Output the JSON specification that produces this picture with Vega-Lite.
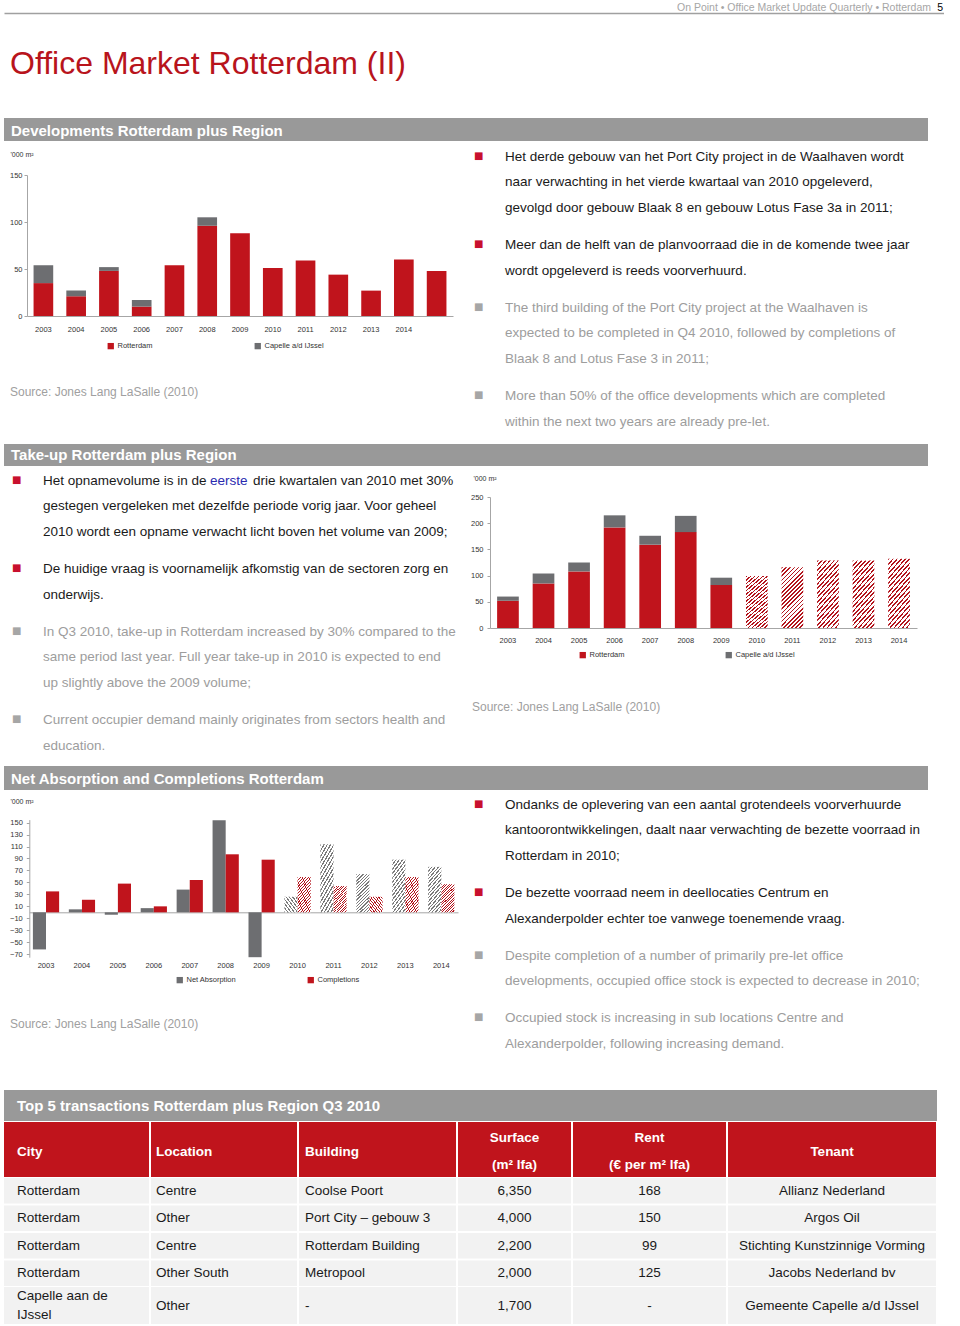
{
"$schema": "https://vega.github.io/schema/vega-lite/v6.json",
"background": "white",
"padding": {"left": 4, "top": 0, "right": 0, "bottom": 0},
"spacing": 0,
"resolve": {"scale": {"color": "independent"}, "legend": {"color": "independent"}},
"datasets": {
"dev": [
{"year":"2003","series":"Rotterdam","value":35},{"year":"2003","series":"Capelle a/d IJssel","value":19},
{"year":"2004","series":"Rotterdam","value":21},{"year":"2004","series":"Capelle a/d IJssel","value":6},
{"year":"2005","series":"Rotterdam","value":48},{"year":"2005","series":"Capelle a/d IJssel","value":4},
{"year":"2006","series":"Rotterdam","value":10},{"year":"2006","series":"Capelle a/d IJssel","value":7},
{"year":"2007","series":"Rotterdam","value":54},
{"year":"2008","series":"Rotterdam","value":96},{"year":"2008","series":"Capelle a/d IJssel","value":9},
{"year":"2009","series":"Rotterdam","value":88},
{"year":"2010","series":"Rotterdam","value":51},
{"year":"2011","series":"Rotterdam","value":59},
{"year":"2012","series":"Rotterdam","value":44},
{"year":"2013","series":"Rotterdam","value":27},
{"year":"2014","series":"Rotterdam","value":60},
{"year":"2015","series":"Rotterdam","value":48}
],
"takeup": [
{"year":"2003","series":"Rotterdam","status":"actual","value":52},{"year":"2003","series":"Capelle a/d IJssel","status":"actual","value":8},
{"year":"2004","series":"Rotterdam","status":"actual","value":85},{"year":"2004","series":"Capelle a/d IJssel","status":"actual","value":19},
{"year":"2005","series":"Rotterdam","status":"actual","value":108},{"year":"2005","series":"Capelle a/d IJssel","status":"actual","value":17},
{"year":"2006","series":"Rotterdam","status":"actual","value":192},{"year":"2006","series":"Capelle a/d IJssel","status":"actual","value":23},
{"year":"2007","series":"Rotterdam","status":"actual","value":159},{"year":"2007","series":"Capelle a/d IJssel","status":"actual","value":17},
{"year":"2008","series":"Rotterdam","status":"actual","value":183},{"year":"2008","series":"Capelle a/d IJssel","status":"actual","value":31},
{"year":"2009","series":"Rotterdam","status":"actual","value":82},{"year":"2009","series":"Capelle a/d IJssel","status":"actual","value":14},
{"year":"2010","series":"Forecast","status":"forecast","value":99},
{"year":"2011","series":"Forecast","status":"forecast","value":116},
{"year":"2012","series":"Forecast","status":"forecast","value":129},
{"year":"2013","series":"Forecast","status":"forecast","value":129},
{"year":"2014","series":"Forecast","status":"forecast","value":132}
],
"absorption": [
{"year":"2003","series":"Net Absorption","status":"actual","value":-62},{"year":"2003","series":"Completions","status":"actual","value":35},
{"year":"2004","series":"Net Absorption","status":"actual","value":5},{"year":"2004","series":"Completions","status":"actual","value":21},
{"year":"2005","series":"Net Absorption","status":"actual","value":-4},{"year":"2005","series":"Completions","status":"actual","value":48},
{"year":"2006","series":"Net Absorption","status":"actual","value":7},{"year":"2006","series":"Completions","status":"actual","value":10},
{"year":"2007","series":"Net Absorption","status":"actual","value":38},{"year":"2007","series":"Completions","status":"actual","value":54},
{"year":"2008","series":"Net Absorption","status":"actual","value":154},{"year":"2008","series":"Completions","status":"actual","value":97},
{"year":"2009","series":"Net Absorption","status":"actual","value":-75},{"year":"2009","series":"Completions","status":"actual","value":88},
{"year":"2010","series":"Net Absorption","status":"forecast","value":26},{"year":"2010","series":"Completions","status":"forecast","value":59},
{"year":"2011","series":"Net Absorption","status":"forecast","value":114},{"year":"2011","series":"Completions","status":"forecast","value":44},
{"year":"2012","series":"Net Absorption","status":"forecast","value":64},{"year":"2012","series":"Completions","status":"forecast","value":26},
{"year":"2013","series":"Net Absorption","status":"forecast","value":88},{"year":"2013","series":"Completions","status":"forecast","value":59},
{"year":"2014","series":"Net Absorption","status":"forecast","value":76},{"year":"2014","series":"Completions","status":"forecast","value":47}
],
"notes": [
{"block":"dev","para":1,"line":1,"lang":"nl","text":"Het derde gebouw van het Port City project in de Waalhaven wordt"},
{"block":"dev","para":1,"line":2,"lang":"nl","text":"naar verwachting in het vierde kwartaal van 2010 opgeleverd,"},
{"block":"dev","para":1,"line":3,"lang":"nl","text":"gevolgd door gebouw Blaak 8 en gebouw Lotus Fase 3a in 2011;"},
{"block":"dev","para":2,"line":1,"lang":"nl","text":"Meer dan de helft van de planvoorraad die in de komende twee jaar"},
{"block":"dev","para":2,"line":2,"lang":"nl","text":"wordt opgeleverd is reeds voorverhuurd."},
{"block":"dev","para":3,"line":1,"lang":"en","text":"The third building of the Port City project at the Waalhaven is"},
{"block":"dev","para":3,"line":2,"lang":"en","text":"expected to be completed in Q4 2010, followed by completions of"},
{"block":"dev","para":3,"line":3,"lang":"en","text":"Blaak 8 and Lotus Fase 3 in 2011;"},
{"block":"dev","para":4,"line":1,"lang":"en","text":"More than 50% of the office developments which are completed"},
{"block":"dev","para":4,"line":2,"lang":"en","text":"within the next two years are already pre-let."},
{"block":"takeup","para":1,"line":1,"seg":1,"lang":"nl","text":"Het opnamevolume is in de"},
{"block":"takeup","para":1,"line":1,"seg":2,"lang":"nl","text":"eerste"},
{"block":"takeup","para":1,"line":1,"seg":3,"lang":"nl","text":"drie kwartalen van 2010 met 30%"},
{"block":"takeup","para":1,"line":2,"lang":"nl","text":"gestegen vergeleken met dezelfde periode vorig jaar. Voor geheel"},
{"block":"takeup","para":1,"line":3,"lang":"nl","text":"2010 wordt een opname verwacht licht boven het volume van 2009;"},
{"block":"takeup","para":2,"line":1,"lang":"nl","text":"De huidige vraag is voornamelijk afkomstig van de sectoren zorg en"},
{"block":"takeup","para":2,"line":2,"lang":"nl","text":"onderwijs."},
{"block":"takeup","para":3,"line":1,"lang":"en","text":"In Q3 2010, take-up in Rotterdam increased by 30% compared to the"},
{"block":"takeup","para":3,"line":2,"lang":"en","text":"same period last year. Full year take-up in 2010 is expected to end"},
{"block":"takeup","para":3,"line":3,"lang":"en","text":"up slightly above the 2009 volume;"},
{"block":"takeup","para":4,"line":1,"lang":"en","text":"Current occupier demand mainly originates from sectors health and"},
{"block":"takeup","para":4,"line":2,"lang":"en","text":"education."},
{"block":"absorption","para":1,"line":1,"lang":"nl","text":"Ondanks de oplevering van een aantal grotendeels voorverhuurde"},
{"block":"absorption","para":1,"line":2,"lang":"nl","text":"kantoorontwikkelingen, daalt naar verwachting de bezette voorraad in"},
{"block":"absorption","para":1,"line":3,"lang":"nl","text":"Rotterdam in 2010;"},
{"block":"absorption","para":2,"line":1,"lang":"nl","text":"De bezette voorraad neem in deellocaties Centrum en"},
{"block":"absorption","para":2,"line":2,"lang":"nl","text":"Alexanderpolder echter  toe vanwege toenemende vraag."},
{"block":"absorption","para":3,"line":1,"lang":"en","text":"Despite completion of a number of primarily pre-let office"},
{"block":"absorption","para":3,"line":2,"lang":"en","text":"developments, occupied office stock is expected to decrease in 2010;"},
{"block":"absorption","para":4,"line":1,"lang":"en","text":"Occupied stock is increasing in sub locations Centre and"},
{"block":"absorption","para":4,"line":2,"lang":"en","text":"Alexanderpolder, following increasing demand."}
],
"deals": [
{"rank":1,"city":"Rotterdam","location":"Centre","building":"Coolse Poort","surface":6350,"rent":168,"tenant":"Allianz Nederland"},
{"rank":2,"city":"Rotterdam","location":"Other","building":"Port City – gebouw 3","surface":4000,"rent":150,"tenant":"Argos Oil"},
{"rank":3,"city":"Rotterdam","location":"Centre","building":"Rotterdam Building","surface":2200,"rent":99,"tenant":"Stichting Kunstzinnige Vorming"},
{"rank":4,"city":"Rotterdam","location":"Other South","building":"Metropool","surface":2000,"rent":125,"tenant":"Jacobs Nederland bv"},
{"rank":5,"city":"Capelle aan de\nIJssel","location":"Other","building":"-","surface":1700,"rent":null,"tenant":"Gemeente Capelle a/d IJssel"}
]
},
"vconcat": [
{"width": 940, "height": 13,
 "data": {"values": [{"running": "On Point • Office Market Update Quarterly • Rotterdam", "page": "5"}]},
 "encoding": {"x": {"datum": 1, "type": "quantitative", "scale": {"domain": [0, 1]}, "axis": {"title": null, "orient": "bottom", "domain": true, "domainColor": "#a0a0a0", "domainWidth": 1.5, "ticks": false, "labels": false, "grid": false}}},
 "layer": [
  {"mark": {"type": "text", "align": "right", "baseline": "alphabetic", "fontSize": 10.5, "color": "#a6a6a6", "dx": -13, "dy": 4.5}, "encoding": {"text": {"field": "running", "type": "nominal"}}},
  {"mark": {"type": "text", "align": "right", "baseline": "alphabetic", "fontSize": 10.5, "color": "#000000", "dx": -1, "dy": 4.5}, "encoding": {"text": {"field": "page", "type": "nominal"}}}
 ]},
{"width": 924, "height": 104,
 "data": {"values": [{"title": "Office Market Rotterdam (II)"}]},
 "mark": {"type": "text", "align": "left", "baseline": "alphabetic", "fontSize": 32, "color": "#b8141c", "dx": 6, "dy": 8.3},
 "encoding": {"x": {"datum": 0, "type": "quantitative", "scale": {"domain": [0, 1]}, "axis": null}, "text": {"field": "title", "type": "nominal"}}},
{"width": 924, "height": 23, "view": {"fill": "#999999", "stroke": null},
 "data": {"values": [{"heading": "Developments Rotterdam plus Region"}]},
 "mark": {"type": "text", "align": "left", "baseline": "alphabetic", "fontSize": 15, "fontWeight": "bold", "color": "#ffffff", "dx": 7, "dy": 6.5},
 "encoding": {"x": {"datum": 0, "type": "quantitative", "scale": {"domain": [0, 1]}, "axis": null}, "text": {"field": "heading", "type": "nominal"}}},
{"spacing": 0, "hconcat": [
 {"spacing": 0, "vconcat": [
  {"width": 470, "height": 220, "data": {"name": "dev"},
   "mark": {"type": "bar"},
   "encoding": {
    "x": {"field": "year", "type": "ordinal", "scale": {"range": [23, 449], "paddingInner": 0.4, "paddingOuter": 0.2}, "axis": {"title": null, "labelAngle": 0, "ticks": false, "labelPadding": 9, "offset": -45, "labelExpr": "datum.value == '2015' ? '' : datum.label"}},
    "y": {"field": "value", "type": "quantitative", "stack": "zero", "scale": {"domain": [0, 150], "range": [175, 34], "nice": false}, "axis": {"title": "'000 m²", "values": [0, 50, 100, 150], "offset": -23, "labelPadding": 2, "titleAngle": 0, "titleAlign": "left", "titleBaseline": "middle", "titleX": -17, "titleY": 13}},
    "color": {"field": "series", "type": "nominal", "scale": {"domain": ["Rotterdam", "Capelle a/d IJssel"], "range": ["#c0141c", "#6d6e71"]}, "legend": {"title": null, "orient": "none", "legendX": 103, "legendY": 201, "direction": "horizontal", "columnPadding": 101}},
    "order": {"field": "series", "sort": "descending"}
   }},
  {"width": 470, "height": 83,
   "data": {"values": [{"source": "Source: Jones Lang LaSalle (2010)"}]},
   "mark": {"type": "text", "align": "left", "baseline": "middle", "fontSize": 12, "color": "#a0a0a0", "dx": 6, "dy": -10.5},
   "encoding": {"x": {"datum": 0, "type": "quantitative", "scale": {"domain": [0, 1]}, "axis": null}, "text": {"field": "source", "type": "nominal"}}}
 ]},
 {"spacing": 11.5, "vconcat": [
  {"width": 454, "height": 76.5, "data": {"name": "notes"}, "transform": [{"filter": "datum.block == 'dev' && datum.para == 1"}],
   "encoding": {"x": {"datum": 0, "type": "quantitative", "scale": {"domain": [0, 1]}, "axis": null}, "y": {"field": "line", "type": "ordinal", "axis": null}},
   "layer": [
    {"transform": [{"filter": "datum.line == 1"}], "mark": {"type": "text", "text": "■", "font": "DejaVu Sans", "fontSize": 10, "align": "left", "baseline": "middle", "dx": 0, "dy": 2}, "encoding": {"color": {"condition": {"test": "datum.lang == 'en'", "value": "#a6a6a6"}, "value": "#c8102e"}}},
    {"mark": {"type": "text", "align": "left", "baseline": "middle", "fontSize": 13.5, "dx": 31, "dy": 3}, "encoding": {"text": {"field": "text", "type": "nominal"}, "color": {"condition": {"test": "datum.lang == 'en'", "value": "#9d9d9d"}, "value": "#1a1a1a"}}}
   ]},
  {"width": 454, "height": 51, "data": {"name": "notes"}, "transform": [{"filter": "datum.block == 'dev' && datum.para == 2"}],
   "encoding": {"x": {"datum": 0, "type": "quantitative", "scale": {"domain": [0, 1]}, "axis": null}, "y": {"field": "line", "type": "ordinal", "axis": null}},
   "layer": [
    {"transform": [{"filter": "datum.line == 1"}], "mark": {"type": "text", "text": "■", "font": "DejaVu Sans", "fontSize": 10, "align": "left", "baseline": "middle", "dx": 0, "dy": 2}, "encoding": {"color": {"condition": {"test": "datum.lang == 'en'", "value": "#a6a6a6"}, "value": "#c8102e"}}},
    {"mark": {"type": "text", "align": "left", "baseline": "middle", "fontSize": 13.5, "dx": 31, "dy": 3}, "encoding": {"text": {"field": "text", "type": "nominal"}, "color": {"condition": {"test": "datum.lang == 'en'", "value": "#9d9d9d"}, "value": "#1a1a1a"}}}
   ]},
  {"width": 454, "height": 76.5, "data": {"name": "notes"}, "transform": [{"filter": "datum.block == 'dev' && datum.para == 3"}],
   "encoding": {"x": {"datum": 0, "type": "quantitative", "scale": {"domain": [0, 1]}, "axis": null}, "y": {"field": "line", "type": "ordinal", "axis": null}},
   "layer": [
    {"transform": [{"filter": "datum.line == 1"}], "mark": {"type": "text", "text": "■", "font": "DejaVu Sans", "fontSize": 10, "align": "left", "baseline": "middle", "dx": 0, "dy": 2}, "encoding": {"color": {"condition": {"test": "datum.lang == 'en'", "value": "#a6a6a6"}, "value": "#c8102e"}}},
    {"mark": {"type": "text", "align": "left", "baseline": "middle", "fontSize": 13.5, "dx": 31, "dy": 3}, "encoding": {"text": {"field": "text", "type": "nominal"}, "color": {"condition": {"test": "datum.lang == 'en'", "value": "#9d9d9d"}, "value": "#1a1a1a"}}}
   ]},
  {"width": 454, "height": 51, "data": {"name": "notes"}, "transform": [{"filter": "datum.block == 'dev' && datum.para == 4"}],
   "encoding": {"x": {"datum": 0, "type": "quantitative", "scale": {"domain": [0, 1]}, "axis": null}, "y": {"field": "line", "type": "ordinal", "axis": null}},
   "layer": [
    {"transform": [{"filter": "datum.line == 1"}], "mark": {"type": "text", "text": "■", "font": "DejaVu Sans", "fontSize": 10, "align": "left", "baseline": "middle", "dx": 0, "dy": 2}, "encoding": {"color": {"condition": {"test": "datum.lang == 'en'", "value": "#a6a6a6"}, "value": "#c8102e"}}},
    {"mark": {"type": "text", "align": "left", "baseline": "middle", "fontSize": 13.5, "dx": 31, "dy": 3}, "encoding": {"text": {"field": "text", "type": "nominal"}, "color": {"condition": {"test": "datum.lang == 'en'", "value": "#9d9d9d"}, "value": "#1a1a1a"}}}
   ]}
 ]}
]},
{"width": 924, "height": 22, "view": {"fill": "#999999", "stroke": null},
 "data": {"values": [{"heading": "Take-up Rotterdam plus Region"}]},
 "mark": {"type": "text", "align": "left", "baseline": "alphabetic", "fontSize": 15, "fontWeight": "bold", "color": "#ffffff", "dx": 7, "dy": 4.5},
 "encoding": {"x": {"datum": 0, "type": "quantitative", "scale": {"domain": [0, 1]}, "axis": null}, "text": {"field": "heading", "type": "nominal"}}},
{"spacing": 0, "hconcat": [
 {"spacing": 11.5, "vconcat": [
  {"width": 461, "height": 76.5, "data": {"name": "notes"}, "transform": [{"filter": "datum.block == 'takeup' && datum.para == 1"}],
   "encoding": {"x": {"datum": 0, "type": "quantitative", "scale": {"domain": [0, 1]}, "axis": null}, "y": {"field": "line", "type": "ordinal", "axis": null}},
   "layer": [
    {"transform": [{"filter": "datum.line == 1 && datum.seg == 1"}], "mark": {"type": "text", "text": "■", "font": "DejaVu Sans", "fontSize": 10, "align": "left", "baseline": "middle", "dx": 8, "dy": 1}, "encoding": {"color": {"condition": {"test": "datum.lang == 'en'", "value": "#a6a6a6"}, "value": "#c8102e"}}},
    {"transform": [{"filter": "datum.seg !== 2 && datum.seg !== 3"}], "mark": {"type": "text", "align": "left", "baseline": "middle", "fontSize": 13.5, "dx": 39, "dy": 2}, "encoding": {"text": {"field": "text", "type": "nominal"}, "color": {"condition": {"test": "datum.lang == 'en'", "value": "#9d9d9d"}, "value": "#1a1a1a"}}},
    {"transform": [{"filter": "datum.seg == 2"}], "mark": {"type": "text", "align": "left", "baseline": "middle", "fontSize": 13.5, "dx": 206, "dy": 2, "color": "#2a2ab0"}, "encoding": {"text": {"field": "text", "type": "nominal"}}},
    {"transform": [{"filter": "datum.seg == 3"}], "mark": {"type": "text", "align": "left", "baseline": "middle", "fontSize": 13.5, "dx": 249, "dy": 2, "color": "#1a1a1a"}, "encoding": {"text": {"field": "text", "type": "nominal"}}}
   ]},
  {"width": 461, "height": 51, "data": {"name": "notes"}, "transform": [{"filter": "datum.block == 'takeup' && datum.para == 2"}],
   "encoding": {"x": {"datum": 0, "type": "quantitative", "scale": {"domain": [0, 1]}, "axis": null}, "y": {"field": "line", "type": "ordinal", "axis": null}},
   "layer": [
    {"transform": [{"filter": "datum.line == 1"}], "mark": {"type": "text", "text": "■", "font": "DejaVu Sans", "fontSize": 10, "align": "left", "baseline": "middle", "dx": 8, "dy": 1}, "encoding": {"color": {"condition": {"test": "datum.lang == 'en'", "value": "#a6a6a6"}, "value": "#c8102e"}}},
    {"mark": {"type": "text", "align": "left", "baseline": "middle", "fontSize": 13.5, "dx": 39, "dy": 2}, "encoding": {"text": {"field": "text", "type": "nominal"}, "color": {"condition": {"test": "datum.lang == 'en'", "value": "#9d9d9d"}, "value": "#1a1a1a"}}}
   ]},
  {"width": 461, "height": 76.5, "data": {"name": "notes"}, "transform": [{"filter": "datum.block == 'takeup' && datum.para == 3"}],
   "encoding": {"x": {"datum": 0, "type": "quantitative", "scale": {"domain": [0, 1]}, "axis": null}, "y": {"field": "line", "type": "ordinal", "axis": null}},
   "layer": [
    {"transform": [{"filter": "datum.line == 1"}], "mark": {"type": "text", "text": "■", "font": "DejaVu Sans", "fontSize": 10, "align": "left", "baseline": "middle", "dx": 8, "dy": 1}, "encoding": {"color": {"condition": {"test": "datum.lang == 'en'", "value": "#a6a6a6"}, "value": "#c8102e"}}},
    {"mark": {"type": "text", "align": "left", "baseline": "middle", "fontSize": 13.5, "dx": 39, "dy": 2}, "encoding": {"text": {"field": "text", "type": "nominal"}, "color": {"condition": {"test": "datum.lang == 'en'", "value": "#9d9d9d"}, "value": "#1a1a1a"}}}
   ]},
  {"width": 461, "height": 51, "data": {"name": "notes"}, "transform": [{"filter": "datum.block == 'takeup' && datum.para == 4"}],
   "encoding": {"x": {"datum": 0, "type": "quantitative", "scale": {"domain": [0, 1]}, "axis": null}, "y": {"field": "line", "type": "ordinal", "axis": null}},
   "layer": [
    {"transform": [{"filter": "datum.line == 1"}], "mark": {"type": "text", "text": "■", "font": "DejaVu Sans", "fontSize": 10, "align": "left", "baseline": "middle", "dx": 8, "dy": 1}, "encoding": {"color": {"condition": {"test": "datum.lang == 'en'", "value": "#a6a6a6"}, "value": "#c8102e"}}},
    {"mark": {"type": "text", "align": "left", "baseline": "middle", "fontSize": 13.5, "dx": 39, "dy": 2}, "encoding": {"text": {"field": "text", "type": "nominal"}, "color": {"condition": {"test": "datum.lang == 'en'", "value": "#9d9d9d"}, "value": "#1a1a1a"}}}
   ]}
 ]},
 {"spacing": 0, "vconcat": [
  {"width": 463, "height": 200, "data": {"name": "takeup"},
   "encoding": {
    "x": {"field": "year", "type": "ordinal", "scale": {"range": [25, 452], "paddingInner": 0.39, "paddingOuter": 0.2}, "axis": {"title": null, "labelAngle": 0, "ticks": false, "labelPadding": 8.5, "offset": -38}},
    "y": {"field": "value", "type": "quantitative", "scale": {"domain": [0, 250], "range": [162, 31], "nice": false}, "axis": {"title": "'000 m²", "values": [0, 50, 100, 150, 200, 250], "offset": -25, "labelPadding": 4, "titleAngle": 0, "titleAlign": "left", "titleBaseline": "middle", "titleX": -17, "titleY": 12}}
   },
   "layer": [
    {"transform": [{"filter": "datum.status == 'actual'"}], "mark": {"type": "bar"},
     "encoding": {
      "color": {"field": "series", "type": "nominal", "scale": {"domain": ["Rotterdam", "Capelle a/d IJssel"], "range": ["#c0141c", "#6d6e71"]}, "legend": {"title": null, "orient": "none", "legendX": 575, "legendY": 185, "direction": "horizontal", "columnPadding": 100}},
      "order": {"field": "series", "sort": "descending"}
     }},
    {"transform": [{"filter": "datum.status == 'forecast'"}],
     "mark": {"type": "bar", "fill": {"gradient": "linear", "x1": 0, "y1": 0, "x2": 0.43, "y2": 1.2, "stops": [
{"offset":0,"color":"#b3141c"},{"offset":0.02,"color":"#b3141c"},{"offset":0.02,"color":"#ffffff"},{"offset":0.05,"color":"#ffffff"},
{"offset":0.05,"color":"#b3141c"},{"offset":0.07,"color":"#b3141c"},{"offset":0.07,"color":"#ffffff"},{"offset":0.1,"color":"#ffffff"},
{"offset":0.1,"color":"#b3141c"},{"offset":0.12,"color":"#b3141c"},{"offset":0.12,"color":"#ffffff"},{"offset":0.15,"color":"#ffffff"},
{"offset":0.15,"color":"#b3141c"},{"offset":0.17,"color":"#b3141c"},{"offset":0.17,"color":"#ffffff"},{"offset":0.2,"color":"#ffffff"},
{"offset":0.2,"color":"#b3141c"},{"offset":0.22,"color":"#b3141c"},{"offset":0.22,"color":"#ffffff"},{"offset":0.25,"color":"#ffffff"},
{"offset":0.25,"color":"#b3141c"},{"offset":0.27,"color":"#b3141c"},{"offset":0.27,"color":"#ffffff"},{"offset":0.3,"color":"#ffffff"},
{"offset":0.3,"color":"#b3141c"},{"offset":0.32,"color":"#b3141c"},{"offset":0.32,"color":"#ffffff"},{"offset":0.35,"color":"#ffffff"},
{"offset":0.35,"color":"#b3141c"},{"offset":0.37,"color":"#b3141c"},{"offset":0.37,"color":"#ffffff"},{"offset":0.4,"color":"#ffffff"},
{"offset":0.4,"color":"#b3141c"},{"offset":0.42,"color":"#b3141c"},{"offset":0.42,"color":"#ffffff"},{"offset":0.45,"color":"#ffffff"},
{"offset":0.45,"color":"#b3141c"},{"offset":0.47,"color":"#b3141c"},{"offset":0.47,"color":"#ffffff"},{"offset":0.5,"color":"#ffffff"},
{"offset":0.5,"color":"#b3141c"},{"offset":0.52,"color":"#b3141c"},{"offset":0.52,"color":"#ffffff"},{"offset":0.55,"color":"#ffffff"},
{"offset":0.55,"color":"#b3141c"},{"offset":0.57,"color":"#b3141c"},{"offset":0.57,"color":"#ffffff"},{"offset":0.6,"color":"#ffffff"},
{"offset":0.6,"color":"#b3141c"},{"offset":0.62,"color":"#b3141c"},{"offset":0.62,"color":"#ffffff"},{"offset":0.65,"color":"#ffffff"},
{"offset":0.65,"color":"#b3141c"},{"offset":0.67,"color":"#b3141c"},{"offset":0.67,"color":"#ffffff"},{"offset":0.7,"color":"#ffffff"},
{"offset":0.7,"color":"#b3141c"},{"offset":0.72,"color":"#b3141c"},{"offset":0.72,"color":"#ffffff"},{"offset":0.75,"color":"#ffffff"},
{"offset":0.75,"color":"#b3141c"},{"offset":0.77,"color":"#b3141c"},{"offset":0.77,"color":"#ffffff"},{"offset":0.8,"color":"#ffffff"},
{"offset":0.8,"color":"#b3141c"},{"offset":0.82,"color":"#b3141c"},{"offset":0.82,"color":"#ffffff"},{"offset":0.85,"color":"#ffffff"},
{"offset":0.85,"color":"#b3141c"},{"offset":0.87,"color":"#b3141c"},{"offset":0.87,"color":"#ffffff"},{"offset":0.9,"color":"#ffffff"},
{"offset":0.9,"color":"#b3141c"},{"offset":0.92,"color":"#b3141c"},{"offset":0.92,"color":"#ffffff"},{"offset":0.95,"color":"#ffffff"},
{"offset":0.95,"color":"#b3141c"},{"offset":0.97,"color":"#b3141c"},{"offset":0.97,"color":"#ffffff"},{"offset":1,"color":"#ffffff"}
     ]}}}
   ]},
  {"width": 463, "height": 100,
   "data": {"values": [{"source": "Source: Jones Lang LaSalle (2010)"}]},
   "mark": {"type": "text", "align": "left", "baseline": "middle", "fontSize": 12, "color": "#a0a0a0", "dx": 7, "dy": -9},
   "encoding": {"x": {"datum": 0, "type": "quantitative", "scale": {"domain": [0, 1]}, "axis": null}, "text": {"field": "source", "type": "nominal"}}}
 ]}
]},
{"width": 924, "height": 24, "view": {"fill": "#999999", "stroke": null},
 "data": {"values": [{"heading": "Net Absorption and Completions Rotterdam"}]},
 "mark": {"type": "text", "align": "left", "baseline": "alphabetic", "fontSize": 15, "fontWeight": "bold", "color": "#ffffff", "dx": 7, "dy": 6},
 "encoding": {"x": {"datum": 0, "type": "quantitative", "scale": {"domain": [0, 1]}, "axis": null}, "text": {"field": "heading", "type": "nominal"}}},
{"spacing": 0, "hconcat": [
 {"spacing": 0, "vconcat": [
  {"width": 470, "height": 206, "data": {"name": "absorption"},
   "encoding": {
    "x": {"field": "year", "type": "ordinal", "scale": {"range": [25.3, 454], "paddingInner": 0.27, "paddingOuter": 0.1}, "axis": {"title": null, "labelAngle": 0, "ticks": false, "labelPadding": 49.2, "offset": -83.7}},
    "xOffset": {"field": "series", "type": "nominal", "scale": {"domain": ["Net Absorption", "Completions"], "paddingInner": 0, "paddingOuter": 0}},
    "y": {"field": "value", "type": "quantitative", "stack": null, "scale": {"domain": [-75, 155], "range": [167.2, 29.6], "nice": false}, "axis": {"title": "'000 m²", "values": [-70, -50, -30, -10, 10, 30, 50, 70, 90, 110, 130, 150], "offset": -25.3, "labelPadding": 4, "titleAngle": 0, "titleAlign": "left", "titleBaseline": "middle", "titleX": -19.3, "titleY": 11}}
   },
   "layer": [
    {"transform": [{"filter": "datum.status == 'actual'"}], "mark": {"type": "bar"},
     "encoding": {"color": {"field": "series", "type": "nominal", "scale": {"domain": ["Net Absorption", "Completions"], "range": ["#6d6e71", "#c0141c"]}, "legend": {"title": null, "orient": "none", "legendX": 172, "legendY": 186, "direction": "horizontal", "columnPadding": 70}}}},
    {"transform": [{"filter": "datum.status == 'forecast' && datum.series == 'Net Absorption'"}],
     "mark": {"type": "bar", "fill": {"gradient": "linear", "x1": 0, "y1": 0, "x2": 0.4, "y2": 1.2, "stops": [
{"offset":0,"color":"#7a7a7a"},{"offset":0.025,"color":"#7a7a7a"},{"offset":0.025,"color":"#ffffff"},{"offset":0.0625,"color":"#ffffff"},
{"offset":0.0625,"color":"#7a7a7a"},{"offset":0.0875,"color":"#7a7a7a"},{"offset":0.0875,"color":"#ffffff"},{"offset":0.125,"color":"#ffffff"},
{"offset":0.125,"color":"#7a7a7a"},{"offset":0.15,"color":"#7a7a7a"},{"offset":0.15,"color":"#ffffff"},{"offset":0.1875,"color":"#ffffff"},
{"offset":0.1875,"color":"#7a7a7a"},{"offset":0.2125,"color":"#7a7a7a"},{"offset":0.2125,"color":"#ffffff"},{"offset":0.25,"color":"#ffffff"},
{"offset":0.25,"color":"#7a7a7a"},{"offset":0.275,"color":"#7a7a7a"},{"offset":0.275,"color":"#ffffff"},{"offset":0.3125,"color":"#ffffff"},
{"offset":0.3125,"color":"#7a7a7a"},{"offset":0.3375,"color":"#7a7a7a"},{"offset":0.3375,"color":"#ffffff"},{"offset":0.375,"color":"#ffffff"},
{"offset":0.375,"color":"#7a7a7a"},{"offset":0.4,"color":"#7a7a7a"},{"offset":0.4,"color":"#ffffff"},{"offset":0.4375,"color":"#ffffff"},
{"offset":0.4375,"color":"#7a7a7a"},{"offset":0.4625,"color":"#7a7a7a"},{"offset":0.4625,"color":"#ffffff"},{"offset":0.5,"color":"#ffffff"},
{"offset":0.5,"color":"#7a7a7a"},{"offset":0.525,"color":"#7a7a7a"},{"offset":0.525,"color":"#ffffff"},{"offset":0.5625,"color":"#ffffff"},
{"offset":0.5625,"color":"#7a7a7a"},{"offset":0.5875,"color":"#7a7a7a"},{"offset":0.5875,"color":"#ffffff"},{"offset":0.625,"color":"#ffffff"},
{"offset":0.625,"color":"#7a7a7a"},{"offset":0.65,"color":"#7a7a7a"},{"offset":0.65,"color":"#ffffff"},{"offset":0.6875,"color":"#ffffff"},
{"offset":0.6875,"color":"#7a7a7a"},{"offset":0.7125,"color":"#7a7a7a"},{"offset":0.7125,"color":"#ffffff"},{"offset":0.75,"color":"#ffffff"},
{"offset":0.75,"color":"#7a7a7a"},{"offset":0.775,"color":"#7a7a7a"},{"offset":0.775,"color":"#ffffff"},{"offset":0.8125,"color":"#ffffff"},
{"offset":0.8125,"color":"#7a7a7a"},{"offset":0.8375,"color":"#7a7a7a"},{"offset":0.8375,"color":"#ffffff"},{"offset":0.875,"color":"#ffffff"},
{"offset":0.875,"color":"#7a7a7a"},{"offset":0.9,"color":"#7a7a7a"},{"offset":0.9,"color":"#ffffff"},{"offset":0.9375,"color":"#ffffff"},
{"offset":0.9375,"color":"#7a7a7a"},{"offset":0.9625,"color":"#7a7a7a"},{"offset":0.9625,"color":"#ffffff"},{"offset":1,"color":"#ffffff"}
     ]}}},
    {"transform": [{"filter": "datum.status == 'forecast' && datum.series == 'Completions'"}],
     "mark": {"type": "bar", "fill": {"gradient": "linear", "x1": 0, "y1": 0, "x2": 0.55, "y2": 1.2, "stops": [
{"offset":0,"color":"#b3141c"},{"offset":0.025,"color":"#b3141c"},{"offset":0.025,"color":"#ffffff"},{"offset":0.0625,"color":"#ffffff"},
{"offset":0.0625,"color":"#b3141c"},{"offset":0.0875,"color":"#b3141c"},{"offset":0.0875,"color":"#ffffff"},{"offset":0.125,"color":"#ffffff"},
{"offset":0.125,"color":"#b3141c"},{"offset":0.15,"color":"#b3141c"},{"offset":0.15,"color":"#ffffff"},{"offset":0.1875,"color":"#ffffff"},
{"offset":0.1875,"color":"#b3141c"},{"offset":0.2125,"color":"#b3141c"},{"offset":0.2125,"color":"#ffffff"},{"offset":0.25,"color":"#ffffff"},
{"offset":0.25,"color":"#b3141c"},{"offset":0.275,"color":"#b3141c"},{"offset":0.275,"color":"#ffffff"},{"offset":0.3125,"color":"#ffffff"},
{"offset":0.3125,"color":"#b3141c"},{"offset":0.3375,"color":"#b3141c"},{"offset":0.3375,"color":"#ffffff"},{"offset":0.375,"color":"#ffffff"},
{"offset":0.375,"color":"#b3141c"},{"offset":0.4,"color":"#b3141c"},{"offset":0.4,"color":"#ffffff"},{"offset":0.4375,"color":"#ffffff"},
{"offset":0.4375,"color":"#b3141c"},{"offset":0.4625,"color":"#b3141c"},{"offset":0.4625,"color":"#ffffff"},{"offset":0.5,"color":"#ffffff"},
{"offset":0.5,"color":"#b3141c"},{"offset":0.525,"color":"#b3141c"},{"offset":0.525,"color":"#ffffff"},{"offset":0.5625,"color":"#ffffff"},
{"offset":0.5625,"color":"#b3141c"},{"offset":0.5875,"color":"#b3141c"},{"offset":0.5875,"color":"#ffffff"},{"offset":0.625,"color":"#ffffff"},
{"offset":0.625,"color":"#b3141c"},{"offset":0.65,"color":"#b3141c"},{"offset":0.65,"color":"#ffffff"},{"offset":0.6875,"color":"#ffffff"},
{"offset":0.6875,"color":"#b3141c"},{"offset":0.7125,"color":"#b3141c"},{"offset":0.7125,"color":"#ffffff"},{"offset":0.75,"color":"#ffffff"},
{"offset":0.75,"color":"#b3141c"},{"offset":0.775,"color":"#b3141c"},{"offset":0.775,"color":"#ffffff"},{"offset":0.8125,"color":"#ffffff"},
{"offset":0.8125,"color":"#b3141c"},{"offset":0.8375,"color":"#b3141c"},{"offset":0.8375,"color":"#ffffff"},{"offset":0.875,"color":"#ffffff"},
{"offset":0.875,"color":"#b3141c"},{"offset":0.9,"color":"#b3141c"},{"offset":0.9,"color":"#ffffff"},{"offset":0.9375,"color":"#ffffff"},
{"offset":0.9375,"color":"#b3141c"},{"offset":0.9625,"color":"#b3141c"},{"offset":0.9625,"color":"#ffffff"},{"offset":1,"color":"#ffffff"}
     ]}}}
   ]},
  {"width": 470, "height": 94,
   "data": {"values": [{"source": "Source: Jones Lang LaSalle (2010)"}]},
   "mark": {"type": "text", "align": "left", "baseline": "middle", "fontSize": 12, "color": "#a0a0a0", "dx": 6, "dy": -19},
   "encoding": {"x": {"datum": 0, "type": "quantitative", "scale": {"domain": [0, 1]}, "axis": null}, "text": {"field": "source", "type": "nominal"}}}
 ]},
 {"spacing": 11.5, "vconcat": [
  {"width": 454, "height": 76.5, "data": {"name": "notes"}, "transform": [{"filter": "datum.block == 'absorption' && datum.para == 1"}],
   "encoding": {"x": {"datum": 0, "type": "quantitative", "scale": {"domain": [0, 1]}, "axis": null}, "y": {"field": "line", "type": "ordinal", "axis": null}},
   "layer": [
    {"transform": [{"filter": "datum.line == 1"}], "mark": {"type": "text", "text": "■", "font": "DejaVu Sans", "fontSize": 10, "align": "left", "baseline": "middle", "dx": 0, "dy": 1}, "encoding": {"color": {"condition": {"test": "datum.lang == 'en'", "value": "#a6a6a6"}, "value": "#c8102e"}}},
    {"mark": {"type": "text", "align": "left", "baseline": "middle", "fontSize": 13.5, "dx": 31, "dy": 2}, "encoding": {"text": {"field": "text", "type": "nominal"}, "color": {"condition": {"test": "datum.lang == 'en'", "value": "#9d9d9d"}, "value": "#1a1a1a"}}}
   ]},
  {"width": 454, "height": 51, "data": {"name": "notes"}, "transform": [{"filter": "datum.block == 'absorption' && datum.para == 2"}],
   "encoding": {"x": {"datum": 0, "type": "quantitative", "scale": {"domain": [0, 1]}, "axis": null}, "y": {"field": "line", "type": "ordinal", "axis": null}},
   "layer": [
    {"transform": [{"filter": "datum.line == 1"}], "mark": {"type": "text", "text": "■", "font": "DejaVu Sans", "fontSize": 10, "align": "left", "baseline": "middle", "dx": 0, "dy": 1}, "encoding": {"color": {"condition": {"test": "datum.lang == 'en'", "value": "#a6a6a6"}, "value": "#c8102e"}}},
    {"mark": {"type": "text", "align": "left", "baseline": "middle", "fontSize": 13.5, "dx": 31, "dy": 2}, "encoding": {"text": {"field": "text", "type": "nominal"}, "color": {"condition": {"test": "datum.lang == 'en'", "value": "#9d9d9d"}, "value": "#1a1a1a"}}}
   ]},
  {"width": 454, "height": 51, "data": {"name": "notes"}, "transform": [{"filter": "datum.block == 'absorption' && datum.para == 3"}],
   "encoding": {"x": {"datum": 0, "type": "quantitative", "scale": {"domain": [0, 1]}, "axis": null}, "y": {"field": "line", "type": "ordinal", "axis": null}},
   "layer": [
    {"transform": [{"filter": "datum.line == 1"}], "mark": {"type": "text", "text": "■", "font": "DejaVu Sans", "fontSize": 10, "align": "left", "baseline": "middle", "dx": 0, "dy": 1}, "encoding": {"color": {"condition": {"test": "datum.lang == 'en'", "value": "#a6a6a6"}, "value": "#c8102e"}}},
    {"mark": {"type": "text", "align": "left", "baseline": "middle", "fontSize": 13.5, "dx": 31, "dy": 2}, "encoding": {"text": {"field": "text", "type": "nominal"}, "color": {"condition": {"test": "datum.lang == 'en'", "value": "#9d9d9d"}, "value": "#1a1a1a"}}}
   ]},
  {"width": 454, "height": 51, "data": {"name": "notes"}, "transform": [{"filter": "datum.block == 'absorption' && datum.para == 4"}],
   "encoding": {"x": {"datum": 0, "type": "quantitative", "scale": {"domain": [0, 1]}, "axis": null}, "y": {"field": "line", "type": "ordinal", "axis": null}},
   "layer": [
    {"transform": [{"filter": "datum.line == 1"}], "mark": {"type": "text", "text": "■", "font": "DejaVu Sans", "fontSize": 10, "align": "left", "baseline": "middle", "dx": 0, "dy": 1}, "encoding": {"color": {"condition": {"test": "datum.lang == 'en'", "value": "#a6a6a6"}, "value": "#c8102e"}}},
    {"mark": {"type": "text", "align": "left", "baseline": "middle", "fontSize": 13.5, "dx": 31, "dy": 2}, "encoding": {"text": {"field": "text", "type": "nominal"}, "color": {"condition": {"test": "datum.lang == 'en'", "value": "#9d9d9d"}, "value": "#1a1a1a"}}}
   ]}
 ]}
]},
{"spacing": 1, "vconcat": [
 {"width": 933, "height": 31, "view": {"fill": "#999999", "stroke": null},
  "data": {"values": [{"heading": "Top 5 transactions Rotterdam plus Region Q3 2010"}]},
  "mark": {"type": "text", "align": "left", "baseline": "alphabetic", "fontSize": 15, "fontWeight": "bold", "color": "#ffffff", "dx": 13, "dy": 5.5},
  "encoding": {"x": {"datum": 0, "type": "quantitative", "scale": {"domain": [0, 1]}, "axis": null}, "text": {"field": "heading", "type": "nominal"}}},
 {"spacing": 2, "hconcat": [
  {"width": 145, "height": 55, "view": {"fill": "#c0141c", "stroke": null}, "data": {"values": [{"label": "City"}]},
   "mark": {"type": "text", "align": "left", "baseline": "middle", "fontSize": 13.5, "fontWeight": "bold", "color": "#ffffff", "dx": 13, "dy": 2},
   "encoding": {"x": {"datum": 0, "type": "quantitative", "scale": {"domain": [0, 1]}, "axis": null}, "text": {"field": "label", "type": "nominal"}}},
  {"width": 146, "height": 55, "view": {"fill": "#c0141c", "stroke": null}, "data": {"values": [{"label": "Location"}]},
   "mark": {"type": "text", "align": "left", "baseline": "middle", "fontSize": 13.5, "fontWeight": "bold", "color": "#ffffff", "dx": 5, "dy": 2},
   "encoding": {"x": {"datum": 0, "type": "quantitative", "scale": {"domain": [0, 1]}, "axis": null}, "text": {"field": "label", "type": "nominal"}}},
  {"width": 157, "height": 55, "view": {"fill": "#c0141c", "stroke": null}, "data": {"values": [{"label": "Building"}]},
   "mark": {"type": "text", "align": "left", "baseline": "middle", "fontSize": 13.5, "fontWeight": "bold", "color": "#ffffff", "dx": 6, "dy": 2},
   "encoding": {"x": {"datum": 0, "type": "quantitative", "scale": {"domain": [0, 1]}, "axis": null}, "text": {"field": "label", "type": "nominal"}}},
  {"width": 113, "height": 55, "view": {"fill": "#c0141c", "stroke": null}, "data": {"values": [{"label": "Surface\n(m² lfa)"}]},
   "mark": {"type": "text", "align": "center", "baseline": "middle", "fontSize": 13.5, "fontWeight": "bold", "color": "#ffffff", "dy": -11.5, "lineBreak": "\n", "lineHeight": 27},
   "encoding": {"text": {"field": "label", "type": "nominal"}}},
  {"width": 153, "height": 55, "view": {"fill": "#c0141c", "stroke": null}, "data": {"values": [{"label": "Rent\n(€ per m² lfa)"}]},
   "mark": {"type": "text", "align": "center", "baseline": "middle", "fontSize": 13.5, "fontWeight": "bold", "color": "#ffffff", "dy": -11.5, "lineBreak": "\n", "lineHeight": 27},
   "encoding": {"text": {"field": "label", "type": "nominal"}}},
  {"width": 208, "height": 55, "view": {"fill": "#c0141c", "stroke": null}, "data": {"values": [{"label": "Tenant"}]},
   "mark": {"type": "text", "align": "center", "baseline": "middle", "fontSize": 13.5, "fontWeight": "bold", "color": "#ffffff", "dy": 2},
   "encoding": {"text": {"field": "label", "type": "nominal"}}}
 ]},
 {"spacing": 2, "hconcat": [
  {"width": 145, "height": 108, "data": {"name": "deals"}, "transform": [{"filter": "datum.rank <= 4"}],
   "encoding": {"y": {"field": "rank", "type": "ordinal", "scale": {"paddingInner": 0.07, "paddingOuter": 0}, "axis": null}, "x": {"datum": 0, "type": "quantitative", "scale": {"domain": [0, 1]}, "axis": null}},
   "layer": [
    {"mark": {"type": "bar", "color": "#f2f2f2"}, "encoding": {"x": {"datum": 1, "type": "quantitative"}}},
    {"mark": {"type": "text", "align": "left", "baseline": "middle", "fontSize": 13.5, "color": "#1a1a1a", "dx": 13}, "encoding": {"text": {"field": "city", "type": "nominal"}}}
   ]},
  {"width": 146, "height": 108, "data": {"name": "deals"}, "transform": [{"filter": "datum.rank <= 4"}],
   "encoding": {"y": {"field": "rank", "type": "ordinal", "scale": {"paddingInner": 0.07, "paddingOuter": 0}, "axis": null}, "x": {"datum": 0, "type": "quantitative", "scale": {"domain": [0, 1]}, "axis": null}},
   "layer": [
    {"mark": {"type": "bar", "color": "#f2f2f2"}, "encoding": {"x": {"datum": 1, "type": "quantitative"}}},
    {"mark": {"type": "text", "align": "left", "baseline": "middle", "fontSize": 13.5, "color": "#1a1a1a", "dx": 5}, "encoding": {"text": {"field": "location", "type": "nominal"}}}
   ]},
  {"width": 157, "height": 108, "data": {"name": "deals"}, "transform": [{"filter": "datum.rank <= 4"}],
   "encoding": {"y": {"field": "rank", "type": "ordinal", "scale": {"paddingInner": 0.07, "paddingOuter": 0}, "axis": null}, "x": {"datum": 0, "type": "quantitative", "scale": {"domain": [0, 1]}, "axis": null}},
   "layer": [
    {"mark": {"type": "bar", "color": "#f2f2f2"}, "encoding": {"x": {"datum": 1, "type": "quantitative"}}},
    {"mark": {"type": "text", "align": "left", "baseline": "middle", "fontSize": 13.5, "color": "#1a1a1a", "dx": 6}, "encoding": {"text": {"field": "building", "type": "nominal"}}}
   ]},
  {"width": 113, "height": 108, "data": {"name": "deals"}, "transform": [{"filter": "datum.rank <= 4"}],
   "encoding": {"y": {"field": "rank", "type": "ordinal", "scale": {"paddingInner": 0.07, "paddingOuter": 0}, "axis": null}},
   "layer": [
    {"mark": {"type": "bar", "color": "#f2f2f2"}, "encoding": {"x": {"datum": 1, "type": "quantitative", "scale": {"domain": [0, 1]}, "axis": null}}},
    {"mark": {"type": "text", "align": "center", "baseline": "middle", "fontSize": 13.5, "color": "#1a1a1a"}, "encoding": {"text": {"field": "surface", "type": "quantitative", "format": ","}}}
   ]},
  {"width": 153, "height": 108, "data": {"name": "deals"}, "transform": [{"filter": "datum.rank <= 4"}],
   "encoding": {"y": {"field": "rank", "type": "ordinal", "scale": {"paddingInner": 0.07, "paddingOuter": 0}, "axis": null}},
   "layer": [
    {"mark": {"type": "bar", "color": "#f2f2f2"}, "encoding": {"x": {"datum": 1, "type": "quantitative", "scale": {"domain": [0, 1]}, "axis": null}}},
    {"mark": {"type": "text", "align": "center", "baseline": "middle", "fontSize": 13.5, "color": "#1a1a1a"}, "encoding": {"text": {"condition": {"test": "datum.rent == null", "value": "-"}, "field": "rent", "type": "quantitative"}}}
   ]},
  {"width": 208, "height": 108, "data": {"name": "deals"}, "transform": [{"filter": "datum.rank <= 4"}],
   "encoding": {"y": {"field": "rank", "type": "ordinal", "scale": {"paddingInner": 0.07, "paddingOuter": 0}, "axis": null}},
   "layer": [
    {"mark": {"type": "bar", "color": "#f2f2f2"}, "encoding": {"x": {"datum": 1, "type": "quantitative", "scale": {"domain": [0, 1]}, "axis": null}}},
    {"mark": {"type": "text", "align": "center", "baseline": "middle", "fontSize": 13.5, "color": "#1a1a1a"}, "encoding": {"text": {"field": "tenant", "type": "nominal"}}}
   ]}
 ]},
 {"spacing": 2, "hconcat": [
  {"width": 145, "height": 37, "data": {"name": "deals"}, "transform": [{"filter": "datum.rank == 5"}],
   "encoding": {"y": {"field": "rank", "type": "ordinal", "scale": {"paddingInner": 0.07, "paddingOuter": 0}, "axis": null}, "x": {"datum": 0, "type": "quantitative", "scale": {"domain": [0, 1]}, "axis": null}},
   "layer": [
    {"mark": {"type": "bar", "color": "#f2f2f2"}, "encoding": {"x": {"datum": 1, "type": "quantitative"}}},
    {"mark": {"type": "text", "align": "left", "baseline": "middle", "fontSize": 13.5, "color": "#1a1a1a", "dx": 13, "dy": -9.5, "lineBreak": "\n", "lineHeight": 19}, "encoding": {"text": {"field": "city", "type": "nominal"}}}
   ]},
  {"width": 146, "height": 37, "data": {"name": "deals"}, "transform": [{"filter": "datum.rank == 5"}],
   "encoding": {"y": {"field": "rank", "type": "ordinal", "scale": {"paddingInner": 0.07, "paddingOuter": 0}, "axis": null}, "x": {"datum": 0, "type": "quantitative", "scale": {"domain": [0, 1]}, "axis": null}},
   "layer": [
    {"mark": {"type": "bar", "color": "#f2f2f2"}, "encoding": {"x": {"datum": 1, "type": "quantitative"}}},
    {"mark": {"type": "text", "align": "left", "baseline": "middle", "fontSize": 13.5, "color": "#1a1a1a", "dx": 5}, "encoding": {"text": {"field": "location", "type": "nominal"}}}
   ]},
  {"width": 157, "height": 37, "data": {"name": "deals"}, "transform": [{"filter": "datum.rank == 5"}],
   "encoding": {"y": {"field": "rank", "type": "ordinal", "scale": {"paddingInner": 0.07, "paddingOuter": 0}, "axis": null}, "x": {"datum": 0, "type": "quantitative", "scale": {"domain": [0, 1]}, "axis": null}},
   "layer": [
    {"mark": {"type": "bar", "color": "#f2f2f2"}, "encoding": {"x": {"datum": 1, "type": "quantitative"}}},
    {"mark": {"type": "text", "align": "left", "baseline": "middle", "fontSize": 13.5, "color": "#1a1a1a", "dx": 6}, "encoding": {"text": {"field": "building", "type": "nominal"}}}
   ]},
  {"width": 113, "height": 37, "data": {"name": "deals"}, "transform": [{"filter": "datum.rank == 5"}],
   "encoding": {"y": {"field": "rank", "type": "ordinal", "scale": {"paddingInner": 0.07, "paddingOuter": 0}, "axis": null}},
   "layer": [
    {"mark": {"type": "bar", "color": "#f2f2f2"}, "encoding": {"x": {"datum": 1, "type": "quantitative", "scale": {"domain": [0, 1]}, "axis": null}}},
    {"mark": {"type": "text", "align": "center", "baseline": "middle", "fontSize": 13.5, "color": "#1a1a1a"}, "encoding": {"text": {"field": "surface", "type": "quantitative", "format": ","}}}
   ]},
  {"width": 153, "height": 37, "data": {"name": "deals"}, "transform": [{"filter": "datum.rank == 5"}],
   "encoding": {"y": {"field": "rank", "type": "ordinal", "scale": {"paddingInner": 0.07, "paddingOuter": 0}, "axis": null}},
   "layer": [
    {"mark": {"type": "bar", "color": "#f2f2f2"}, "encoding": {"x": {"datum": 1, "type": "quantitative", "scale": {"domain": [0, 1]}, "axis": null}}},
    {"mark": {"type": "text", "align": "center", "baseline": "middle", "fontSize": 13.5, "color": "#1a1a1a"}, "encoding": {"text": {"condition": {"test": "datum.rent == null", "value": "-"}, "field": "rent", "type": "quantitative"}}}
   ]},
  {"width": 208, "height": 37, "data": {"name": "deals"}, "transform": [{"filter": "datum.rank == 5"}],
   "encoding": {"y": {"field": "rank", "type": "ordinal", "scale": {"paddingInner": 0.07, "paddingOuter": 0}, "axis": null}},
   "layer": [
    {"mark": {"type": "bar", "color": "#f2f2f2"}, "encoding": {"x": {"datum": 1, "type": "quantitative", "scale": {"domain": [0, 1]}, "axis": null}}},
    {"mark": {"type": "text", "align": "center", "baseline": "middle", "fontSize": 13.5, "color": "#1a1a1a"}, "encoding": {"text": {"field": "tenant", "type": "nominal"}}}
   ]}
 ]}
]}
],
"config": {
 "font": "Liberation Sans",
 "view": {"stroke": null},
 "axis": {"labelFontSize": 7.5, "labelColor": "#333333", "domainColor": "#a6a6a6", "tickColor": "#a6a6a6", "tickSize": 3, "grid": false, "titleFontSize": 7, "titleFontWeight": "normal", "titleColor": "#333333"},
 "legend": {"symbolType": "square", "symbolSize": 40, "symbolStrokeWidth": 0, "labelFontSize": 7.5, "labelColor": "#333333", "padding": 0, "labelOffset": 3}
}
}
